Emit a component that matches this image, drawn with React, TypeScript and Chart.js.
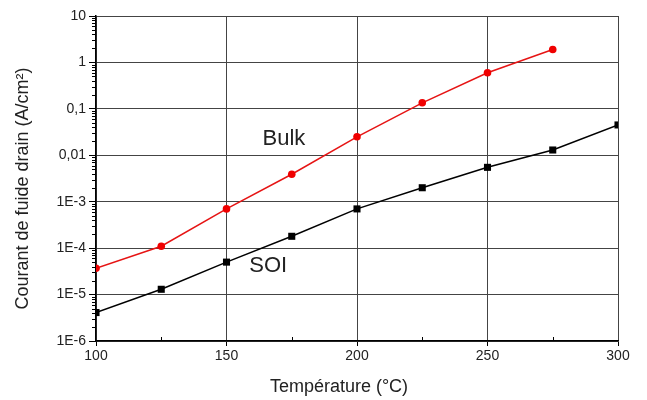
import React, { useEffect, useRef } from "react";
import { Chart, registerables } from "chart.js";

Chart.register(...registerables);

const temperatures = [100, 125, 150, 175, 200, 225, 250, 275, 300];
const bulkValues = [3.7e-5, 1.1e-4, 7.0e-4, 3.9e-3, 0.025, 0.135, 0.6, 1.9, null];
const soiValues = [4.1e-6, 1.3e-5, 5.0e-5, 1.8e-4, 7.0e-4, 2.0e-3, 5.5e-3, 0.013, 0.045];
const yTickValues = [1e-6, 1e-5, 1e-4, 1e-3, 0.01, 0.1, 1, 10];
const yTickLabels = ["1E-6", "1E-5", "1E-4", "1E-3", "0,01", "0,1", "1", "10"];
const xMinorTicks = [125, 175, 225, 275];
const seriesLabels = [
  { text: "Bulk", x: 172, y: 0.0227 },
  { text: "SOI", x: 166, y: 4.1e-5 },
];
const xTitle = "Température (°C)";
const yTitle = "Courant de fuide drain (A/cm²)";

const FONT = "'Liberation Sans', Arial, sans-serif";

const decorPlugin = {
  id: "decor",
  afterDraw(chart: any) {
    const { ctx, chartArea, scales } = chart;
    const xs = scales.x;
    const ys = scales.y;
    ctx.save();
    ctx.strokeStyle = "#000";
    ctx.lineWidth = 1;
    // minor y ticks (outward)
    for (let e = -6; e < 1; e++) {
      for (let m = 2; m <= 9; m++) {
        const v = m * Math.pow(10, e);
        const py = Math.round(ys.getPixelForValue(v)) + 0.5;
        ctx.beginPath();
        ctx.moveTo(chartArea.left - 4, py);
        ctx.lineTo(chartArea.left, py);
        ctx.stroke();
      }
    }
    // minor x ticks (inward)
    for (const t of xMinorTicks) {
      const px = Math.round(xs.getPixelForValue(t)) + 0.5;
      ctx.beginPath();
      ctx.moveTo(px, chartArea.bottom);
      ctx.lineTo(px, chartArea.bottom - 4);
      ctx.stroke();
    }
    // series labels
    ctx.fillStyle = "#222";
    ctx.font = `22px ${FONT}`;
    ctx.textAlign = "center";
    ctx.textBaseline = "middle";
    for (const l of seriesLabels) {
      ctx.fillText(l.text, xs.getPixelForValue(l.x), ys.getPixelForValue(l.y));
    }
    // axis titles
    ctx.font = `18px ${FONT}`;
    ctx.fillText(xTitle, (chartArea.left + chartArea.right) / 2 - 18, chartArea.bottom + 46);
    ctx.translate(23, (chartArea.top + chartArea.bottom) / 2 + 10);
    ctx.rotate(-Math.PI / 2);
    ctx.fillText(yTitle, 0, 0);
    ctx.restore();
  },
};

export default function App() {
  const ref = useRef<HTMLCanvasElement | null>(null);
  useEffect(() => {
    if (!ref.current) return;
    const chart = new Chart(ref.current, {
      type: "line",
      data: {
        datasets: [
          {
            label: "Bulk",
            data: temperatures.map((t, i) => ({ x: t, y: bulkValues[i] })).filter((p) => p.y !== null) as any,
            borderColor: "rgb(230,20,20)",
            backgroundColor: "rgb(240,0,0)",
            borderWidth: 1.5,
            pointStyle: "circle",
            pointRadius: 3.8,
            pointBorderWidth: 0,
            tension: 0,
          },
          {
            label: "SOI",
            data: temperatures.map((t, i) => ({ x: t, y: soiValues[i] })) as any,
            borderColor: "#000",
            backgroundColor: "#000",
            borderWidth: 1.5,
            pointStyle: "rect",
            pointRadius: 5,
            pointBorderWidth: 0,
            tension: 0,
          },
        ],
      },
      options: {
        animation: false,
        responsive: true,
        maintainAspectRatio: false,
        layout: { padding: { left: 0, top: 16, right: 29, bottom: 0 } },
        plugins: { legend: { display: false }, tooltip: { enabled: false } },
        scales: {
          x: {
            type: "linear",
            min: 100,
            max: 300,
            afterFit: (s: any) => {
              s.height = 59;
            },
            ticks: {
              stepSize: 50,
              color: "#222",
              font: { family: FONT, size: 14 },
              padding: 2,
              maxRotation: 0,
            },
            grid: { color: "#444", lineWidth: 1, tickLength: 5, tickColor: "#000" },
            border: { display: true, color: "#000", width: 1.5 },
          },
          y: {
            type: "logarithmic",
            min: 1e-6,
            max: 10,
            afterFit: (s: any) => {
              s.width = 96;
            },
            afterBuildTicks: (s: any) => {
              s.ticks = yTickValues.map((v) => ({ value: v, major: true }));
            },
            ticks: {
              color: "#222",
              font: { family: FONT, size: 14 },
              padding: 3,
              callback: (v: any) => {
                const i = yTickValues.findIndex((t) => Math.abs(Math.log10(t) - Math.log10(Number(v))) < 1e-6);
                return i >= 0 ? yTickLabels[i] : "";
              },
            },
            grid: { color: "#444", lineWidth: 1, tickLength: 7, tickColor: "#000" },
            border: { display: true, color: "#000", width: 1.5 },
          },
        },
      },
      plugins: [decorPlugin],
    });
    return () => chart.destroy();
  }, []);
  return (
    <div style={{ position: "fixed", left: 0, top: 0, width: 647, height: 400, background: "#fff" }}>
      <canvas ref={ref} />
    </div>
  );
}
